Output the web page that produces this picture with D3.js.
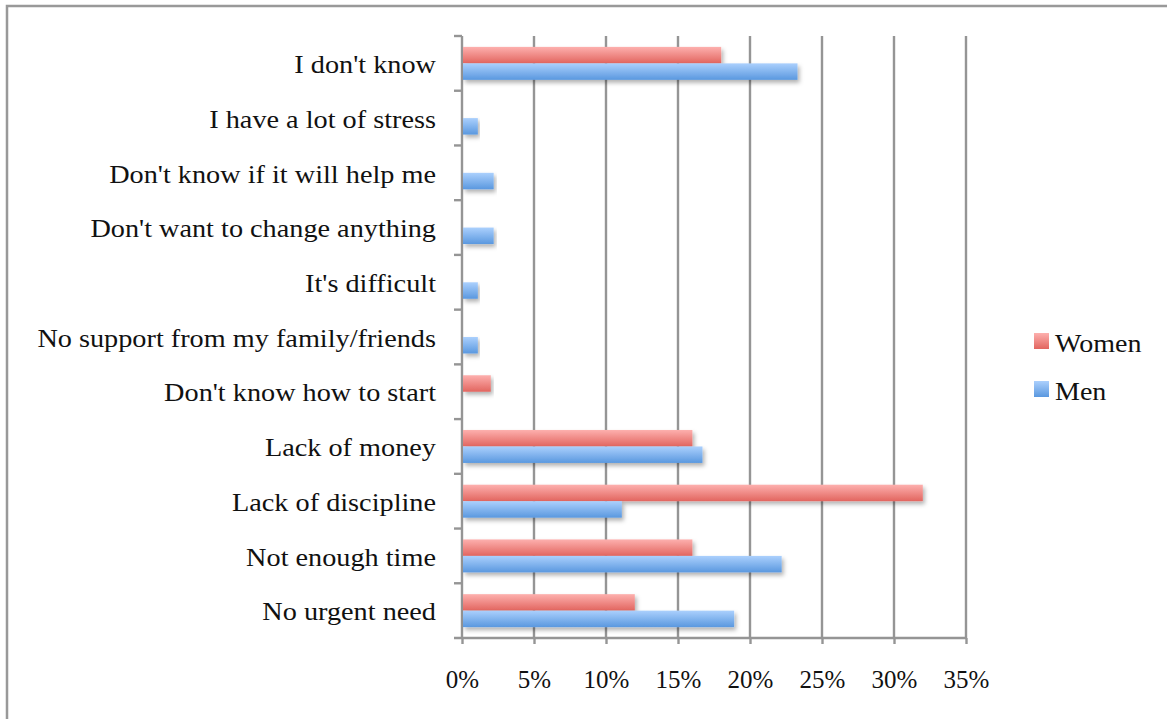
<!DOCTYPE html>
<html>
<head>
<meta charset="utf-8">
<script src="https://cdn.jsdelivr.net/npm/d3@7"></script>
<style>
  html, body { margin: 0; padding: 0; background: #fff; }
  svg { display: block; }
  text { font-family: "Liberation Serif", "DejaVu Serif", serif; fill: #111; }
</style>
</head>
<body>
<script>
// Reasons given for not changing, by gender (percent of respondents)
const categories = [
  "I don't know",
  "I have a lot of stress",
  "Don't know if it will help me",
  "Don't want to change anything",
  "It's difficult",
  "No support from my family/friends",
  "Don't know how to start",
  "Lack of money",
  "Lack of discipline",
  "Not enough time",
  "No urgent need"
];
const seriesNames = ["Women", "Men"];
const women = [18, 0, 0, 0, 0, 0, 2, 16, 32, 16, 12];
const men = [23.3, 1.1, 2.2, 2.2, 1.1, 1.1, 0, 16.7, 11.1, 22.2, 18.9];
const tickValues = [0, 5, 10, 15, 20, 25, 30, 35];

const W = 1167, H = 719;
const svg = d3.select("body").append("svg").attr("width", W).attr("height", H);

// widen text set in the serif face so it reads like the wider book face
function widen(sel, k) {
  sel.each(function () {
    const n = this.getComputedTextLength();
    d3.select(this).attr("textLength", n * k).attr("lengthAdjust", "spacingAndGlyphs");
  });
}

const defs = svg.append("defs");
const grads = {
  Women: ["#fdb0ae", "#e2655f"],
  Men: ["#abd0fd", "#5a98df"]
};
Object.entries(grads).forEach(([k, [c0, c1]]) => {
  const g = defs.append("linearGradient").attr("id", "g-" + k)
    .attr("x1", 0).attr("y1", 0).attr("x2", 0).attr("y2", 1);
  g.append("stop").attr("offset", "0%").attr("stop-color", c0);
  g.append("stop").attr("offset", "100%").attr("stop-color", c1);
});
const f = defs.append("filter").attr("id", "shadow")
  .attr("x", "-5%").attr("y", "-30%").attr("width", "115%").attr("height", "180%");
f.append("feDropShadow").attr("dx", 2).attr("dy", 3).attr("stdDeviation", 2)
  .attr("flood-color", "#000").attr("flood-opacity", 0.3);

// outer frame
svg.append("rect").attr("x", 7).attr("y", 6).attr("width", W + 20).attr("height", H + 20)
  .attr("fill", "none").attr("stroke", "#999").attr("stroke-width", 2.5);

const x = d3.scaleLinear().domain([0, 35]).range([462, 966]);
const y = d3.scaleBand().domain(categories).range([36, 638]).padding(0);
const ySub = d3.scaleBand().domain(seriesNames).range([0, y.bandwidth()]).paddingOuter(0.66).paddingInner(0);

const gridColor = "#959595";
const gridWidth = 2.4;

// vertical gridlines
svg.append("g").selectAll("line").data(tickValues.slice(1)).join("line")
  .attr("x1", d => x(d)).attr("x2", d => x(d))
  .attr("y1", 36).attr("y2", 638)
  .attr("stroke", gridColor).attr("stroke-width", gridWidth);

// x axis
const xAxis = svg.append("g").attr("transform", "translate(0,638)")
  .call(d3.axisBottom(x).tickValues(tickValues).tickFormat(d => d + "%").tickSize(6).tickPadding(26));
xAxis.select(".domain").attr("stroke", gridColor).attr("stroke-width", gridWidth)
  .attr("d", `M${x(0) - 8},0H${x(35)}`);
xAxis.selectAll(".tick line").attr("stroke", gridColor).attr("stroke-width", gridWidth);
xAxis.selectAll(".tick text").style("font-family", '"Liberation Serif", serif')
  .style("font-size", "25px").attr("fill", "#111");

// y axis with ticks at category boundaries
const yAxisG = svg.append("g");
yAxisG.append("line").attr("x1", x(0)).attr("x2", x(0)).attr("y1", 36).attr("y2", 638)
  .attr("stroke", gridColor).attr("stroke-width", gridWidth);
const bounds = categories.map(c => y(c));
yAxisG.selectAll("line.tk").data(bounds).join("line").attr("class", "tk")
  .attr("x1", x(0) - 8).attr("x2", x(0)).attr("y1", d => d).attr("y2", d => d)
  .attr("stroke", gridColor).attr("stroke-width", gridWidth);
yAxisG.selectAll("text").data(categories).join("text")
  .attr("x", x(0) - 26).attr("y", d => y(d) + y.bandwidth() / 2)
  .attr("dy", "0.39em").attr("text-anchor", "end")
  .style("font-size", "25px").text(d => d)
  .call(widen, 1.13);

// bars
const rows = categories.map((c, i) => ({ c, vals: [{ s: "Women", v: women[i] }, { s: "Men", v: men[i] }] }));
const bars = svg.append("g");
rows.forEach(r => {
  r.vals.filter(d => d.v > 0).forEach(d => {
    bars.append("rect")
      .attr("x", x(0) + 1)
      .attr("y", y(r.c) + ySub(d.s))
      .attr("width", x(d.v) - x(0) - 1)
      .attr("height", ySub.bandwidth())
      .attr("fill", `url(#g-${d.s})`)
      .attr("filter", "url(#shadow)");
  });
});

// legend
const legend = svg.append("g").attr("transform", "translate(1034,333)");
seriesNames.forEach((s, i) => {
  const g = legend.append("g").attr("transform", `translate(0,${i * 48})`);
  g.append("rect").attr("width", 15).attr("height", 16).attr("fill", `url(#g-${s})`);
  g.append("text").attr("x", 21).attr("y", 19).style("font-size", "25px").text(s)
    .call(widen, 1.12);
});
</script>
</body>
</html>
